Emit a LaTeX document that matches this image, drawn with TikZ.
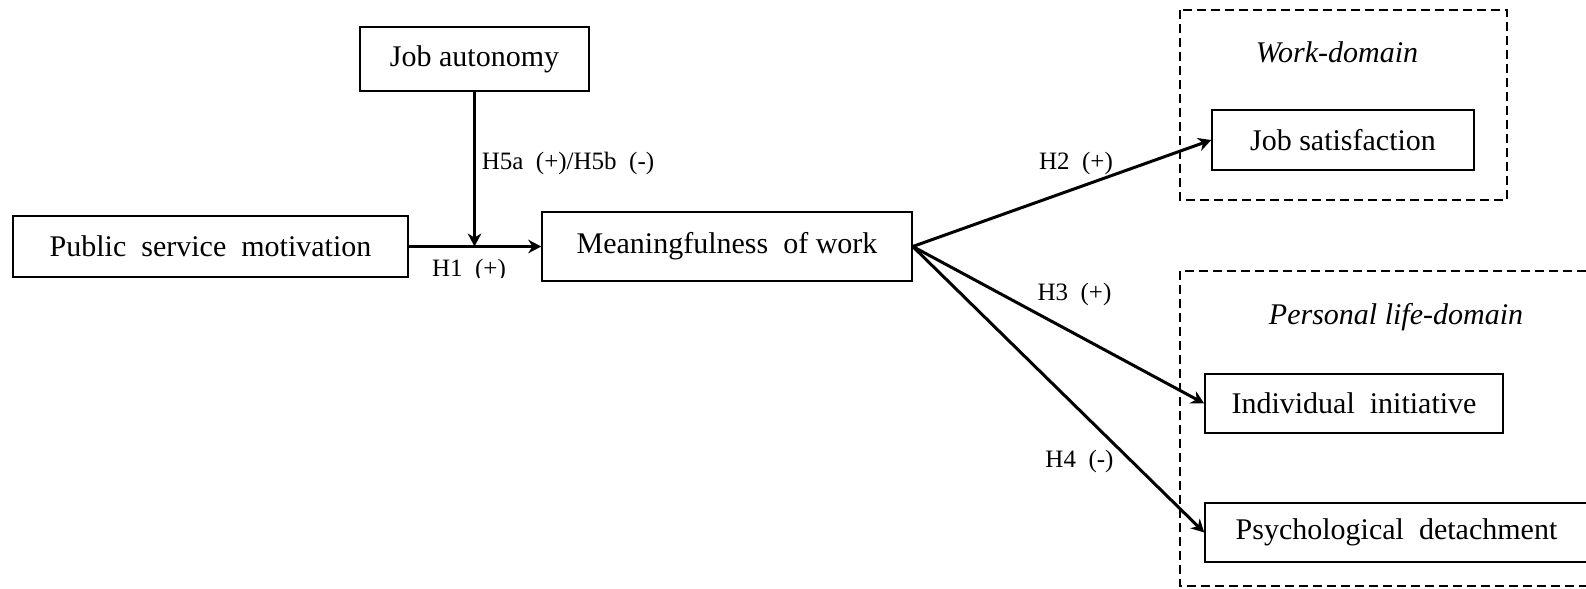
\documentclass[tikz,border=0pt]{standalone}
\usepackage{fontspec}
\setmainfont{Liberation Serif}
\usetikzlibrary{arrows.meta,positioning,calc}
\tikzset{every picture/.style={line width=0.6pt}}
\tikzset{
    var/.style={draw, rectangle, font=\fontsize{12}{14}\selectfont, inner sep=0pt},
    domainbox/.style={draw, dash pattern=on 3.6pt off 2pt, line width=0.5pt},
    hyparrow/.style={-{Stealth[length=5.2pt, width=5.4pt]}, line width=1.2pt},
    hyp/.style={font=\fontsize{10}{12}\selectfont, inner sep=1pt},
    dlabel/.style={font=\fontsize{12}{14}\selectfont\itshape},
}

\begin{document}
\begin{tikzpicture}[x=0.4pt, y=-0.4pt]
    \clip (0,0) rectangle (1586,588);
    \draw[domainbox] (1180,10) rectangle (1507,200);
    \draw[domainbox] (1180,271) rectangle (1600,586);
    \node[dlabel] (worklbl) at (1337,52) {Work-domain};
    \node[dlabel] (perslbl) at (1396,317) {Personal life-domain};

    \node[var, minimum width=158pt, minimum height=24.4pt] (psm) at (210.5,246.5) {Public\ \ service\ \ motivation};
    \node[var, minimum width=91.6pt, minimum height=25.6pt] (auto) at (474.5,59) {Job autonomy};
    \node[var, minimum width=148pt, minimum height=27.6pt] (mean) at (727,246.5) {Meaningfulness\ \ of work};
    \node[var, minimum width=104.8pt, minimum height=24pt] (jsat) at (1343,140) {Job satisfaction};
    \node[var, minimum width=119.2pt, minimum height=23.6pt] (init) at (1354,403.5) {Individual\ \ initiative};
    \node[var, minimum width=153.2pt, minimum height=23.6pt] (detach) at (1396.5,532.5) {Psychological\ \ detachment};

    \coordinate (mod) at (auto.south |- psm.east);
    \draw[hyparrow] (psm) -- (mean);
    \draw[hyparrow] (auto) -- (mod);
    \draw[hyparrow] (mean.east) -- (jsat.west);
    \draw[hyparrow] (mean.east) -- (init.west);
    \draw[hyparrow] (mean.east) -- (detach.west);

    \node[hyp] (h5) at (568,163) {H5a\ \ (+)/H5b\ \ (-)};
    \begin{scope}
        \clip (400,252) rectangle (540,277);
        \node[hyp] (h1) at (469,270) {H1\ \ (+)};
    \end{scope}
    \node[hyp] (h2) at (1076,163) {H2\ \ (+)};
    \node[hyp] (h3) at (1074.5,294) {H3\ \ (+)};
    \node[hyp] (h4) at (1079.5,461) {H4\ \ (-)};
\end{tikzpicture}
\end{document}
